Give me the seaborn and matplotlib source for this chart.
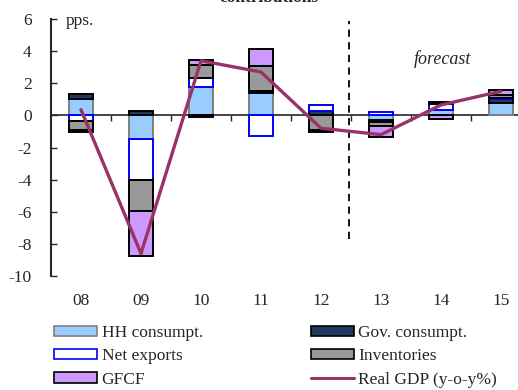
import numpy as np
import pandas as pd
import matplotlib
matplotlib.use("Agg")
import matplotlib.pyplot as plt
from matplotlib.patches import Patch
from matplotlib.lines import Line2D
import seaborn as sns

# contributions to real GDP growth, pps.
years = ['08', '09', '10', '11', '12', '13', '14', '15']
hh_consumpt = [1.0, -1.45, 1.78, 1.4, 0.0, -0.3, 0.35, 0.8]
gov_consumpt = [0.35, 0.25, -0.1, 0.1, 0.3, -0.1, 0.0, 0.25]
net_exports = [-0.35, -2.55, 0.57, -1.28, 0.35, 0.2, 0.33, 0.06]
inventories = [-0.55, -1.95, 0.8, 1.55, -0.9, -0.27, 0.15, 0.15]
gfcf = [-0.15, -2.82, 0.3, 1.1, -0.15, -0.68, -0.2, 0.3]
real_gdp = [0.35, -8.6, 3.4, 2.7, -0.8, -1.2, 0.65, 1.5]

sns.set_style("ticks")
plt.rcParams['font.family'] = ['Liberation Serif', 'DejaVu Serif']
plt.rcParams['font.size'] = 12.5
plt.rcParams['axes.unicode_minus'] = False

fig = plt.figure(figsize=(5.18, 3.9), dpi=100)
ax = fig.add_axes([51 / 518, 1 - 276 / 390, 1 - 51 / 518, 257 / 390])

df = pd.DataFrame({'HH consumpt.': hh_consumpt,
                   'Gov. consumpt.': gov_consumpt,
                   'Net exports': net_exports,
                   'Inventories': inventories,
                   'GFCF': gfcf}, index=years)
styles = {'HH consumpt.': dict(facecolor='#99CCFF', edgecolor='#7f7f7f'),
          'Gov. consumpt.': dict(facecolor='#1F3A5F', edgecolor='black'),
          'Net exports': dict(facecolor='white', edgecolor='#0000FF'),
          'Inventories': dict(facecolor='#999999', edgecolor='black'),
          'GFCF': dict(facecolor='#CC99FF', edgecolor='black')}

x = np.arange(len(years))
pos = np.zeros(len(years))
neg = np.zeros(len(years))
for col in df.columns:
    vals = df[col].values
    bottom = np.where(vals >= 0, pos, neg)
    ax.bar(x, vals, width=0.4, bottom=bottom, linewidth=1.4, zorder=2, **styles[col])
    pos = pos + np.clip(vals, 0, None)
    neg = neg + np.clip(vals, None, 0)

sns.lineplot(x=x, y=real_gdp, ax=ax, color='#993366', lw=2.4, zorder=4)

ax.set_xlim(-0.5, (518 - 51) / 60 - 0.5)
ax.set_ylim(-10, 6)
ax.set_yticks(range(-10, 7, 2))
ax.tick_params(axis='y', direction='in', length=4, width=1, pad=14, labelsize=12.5)
ax.set_xticks(x)
ax.set_xticklabels(years)
ax.tick_params(axis='x', length=0, pad=12, labelsize=12.5)
for s in ['top', 'right', 'bottom']:
    ax.spines[s].set_visible(False)
ax.spines['left'].set_linewidth(1.5)

# zero line with ticks between years
zero_axis = ax.secondary_xaxis(10 / 16)
zero_axis.set_xticks(x[:-1] + 0.5)
zero_axis.set_xticklabels([])
zero_axis.tick_params(direction='in', length=4, width=1)
zero_axis.spines['bottom'].set_linewidth(1.2)
zero_axis.spines['top'].set_linewidth(1.2)

ax.vlines(4.46, -7.7, 5.9, colors='black', linestyles=(0, (4, 3)), lw=1.3)
ax.text(6.02, 3.5, 'forecast', style='italic', fontsize=13, ha='center', va='center')
ax.text(-0.25, 5.85, 'pps.', fontsize=12.5, ha='left', va='center')

fig.text(269 / 518, 1 - 2.5 / 390, 'contributions', ha='center', va='baseline',
         fontsize=12.5, weight='bold')

handles = [Patch(label='HH consumpt.', linewidth=1.2, **styles['HH consumpt.']),
           Patch(label='Net exports', linewidth=1.2, **styles['Net exports']),
           Patch(label='GFCF', linewidth=1.2, **styles['GFCF']),
           Patch(label='Gov. consumpt.', linewidth=1.2, **styles['Gov. consumpt.']),
           Patch(label='Inventories', linewidth=1.2, **styles['Inventories']),
           Line2D([], [], color='#993366', lw=2.2, label='Real GDP (y-o-y%)')]
fig.legend(handles=handles, ncol=2, loc='upper left', bbox_to_anchor=(54 / 518, 1 - 325 / 390),
           frameon=False, fontsize=12.5, borderpad=0, borderaxespad=0, handlelength=2.5,
           handleheight=0.55, handletextpad=0.25, columnspacing=6.2, labelspacing=0.42)

fig.savefig('out.png', dpi=100)
